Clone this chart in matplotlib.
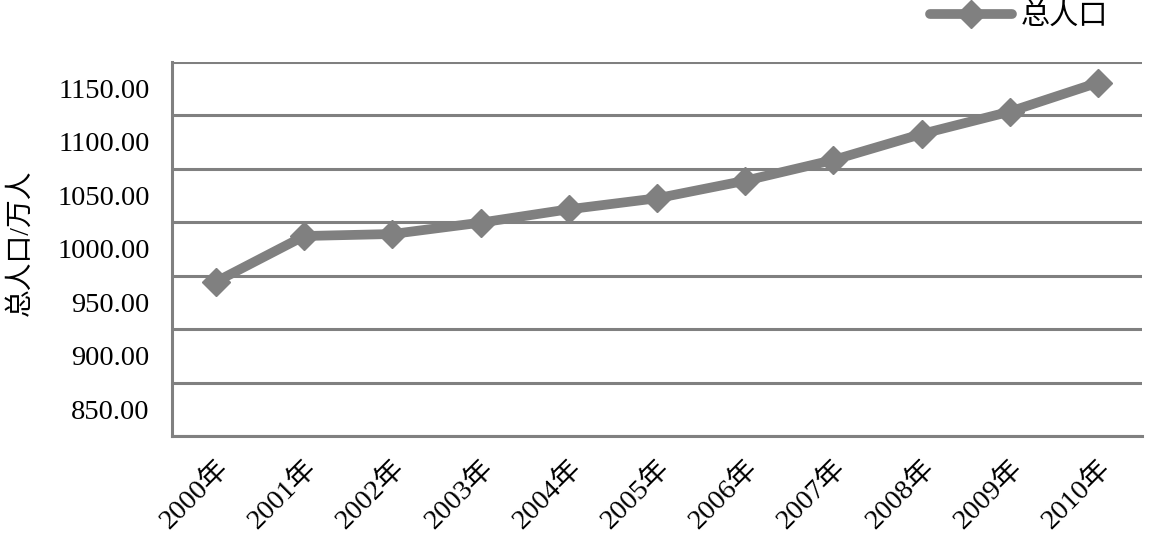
import numpy as np
import matplotlib
matplotlib.use('Agg')
import matplotlib.pyplot as plt

plt.rcParams['font.family'] = ['Liberation Serif', 'Noto Sans CJK SC', 'DejaVu Sans']

# 数据
years = ['2000年', '2001年', '2002年', '2003年', '2004年', '2005年',
         '2006年', '2007年', '2008年', '2009年', '2010年']
population = [969.3, 1012.0, 1013.9, 1024.5, 1037.0, 1047.3,
              1063.7, 1083.1, 1107.4, 1128.3, 1155.4]
grid_levels = [825, 875, 925, 975, 1025, 1075, 1125, 1175]
label_levels = [850, 900, 950, 1000, 1050, 1100, 1150]

gray = '#808080'

fig = plt.figure(figsize=(11.54, 5.4), dpi=100)
ax = fig.add_axes([0.149, 0.1926, 0.8406, 0.6931])

x = np.arange(len(years))
ax.plot(x, population, color=gray, lw=7, marker='D', markersize=14,
        markerfacecolor=gray, markeredgecolor=gray, label='总人口',
        solid_capstyle='round', zorder=3)

ax.set_xlim(-0.5, len(years) - 0.5)
ax.set_ylim(825, 1175)

# 网格线
ax.set_yticks(grid_levels)
ax.set_yticklabels([])
ax.yaxis.grid(True, color=gray, lw=2.2)
ax.tick_params(axis='y', which='major', length=0)
ax.set_yticks(label_levels, minor=True)
ax.set_yticklabels(['%.2f' % v for v in label_levels], minor=True)
ax.tick_params(axis='y', which='minor', length=0, pad=16, labelsize=20.5)

ax.set_xticks(x)
ax.set_xticklabels(years, rotation=45, ha='right', rotation_mode='anchor')
ax.tick_params(axis='x', length=0, pad=14, labelsize=20.5)

for s in ['top', 'right']:
    ax.spines[s].set_visible(False)
for s in ['left', 'bottom']:
    ax.spines[s].set_color(gray)
    ax.spines[s].set_linewidth(2.2)

fig.text(0.018, 0.55, '总人口/万人', rotation=90, fontsize=20,
         ha='center', va='center')

leg = ax.legend(loc='upper right', bbox_to_anchor=(0.977, 1.187), frameon=False,
                fontsize=21, handlelength=2.8, handletextpad=0.3, borderaxespad=0)

plt.savefig('out.png', dpi=100)
